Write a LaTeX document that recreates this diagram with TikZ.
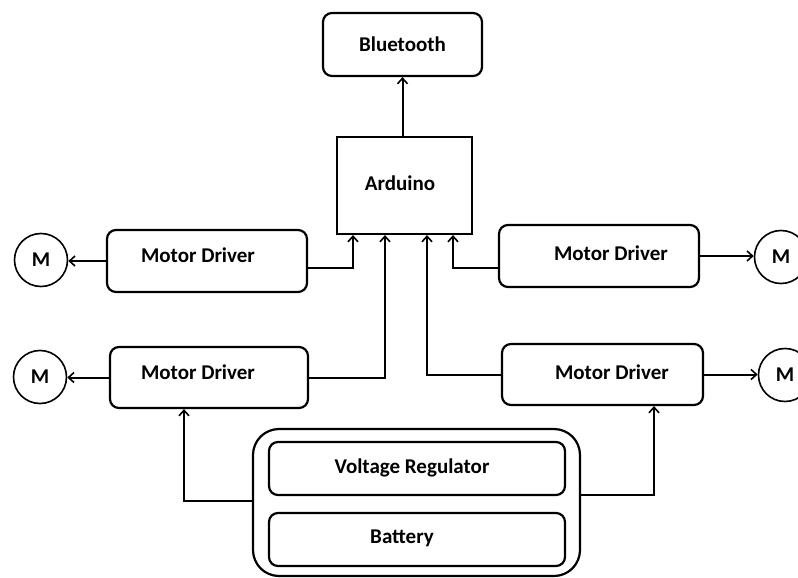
\documentclass[tikz,border=0pt]{standalone}
\usepackage{fontspec}
\setmainfont{Carlito}
\usetikzlibrary{arrows.meta}
\tikzset{
  box/.style={draw, line width=2.2pt, rounded corners=9pt, inner sep=0pt},
  sqbox/.style={draw, line width=2.2pt, inner sep=0pt},
  lbl/.style={font=\bfseries\fontsize{21}{25}\selectfont, inner sep=0pt},
  motor/.style={draw, circle, line width=1.6pt, minimum size=53pt, inner sep=0pt, font=\bfseries\fontsize{21}{25}\selectfont},
  conn/.style={line width=2pt, -{Straight Barb[length=5.5pt,width=10pt,line width=1.6pt]}},
  wire/.style={line width=2pt}
}
\begin{document}
\begin{tikzpicture}[x=1pt,y=-1pt]
\useasboundingbox (0,0) rectangle (798,578);
% boxes
\node[box, minimum width=159pt, minimum height=63pt, lbl] (bt) at (402.5,44.5) {Bluetooth};
\node[sqbox, minimum width=135pt, minimum height=97pt] (ard) at (404.5,185.5) {};
\node[lbl] (ardt) at (400,183) {Arduino};

\node[box, minimum width=200pt, minimum height=62pt] (md1) at (207,261) {};
\node[lbl] (md1t) at (198,255) {Motor Driver};
\node[box, minimum width=200pt, minimum height=62pt] (md2) at (599,256) {};
\node[lbl] (md2t) at (611,253) {Motor Driver};
\node[box, minimum width=198pt, minimum height=61pt] (md3) at (209,377.5) {};
\node[lbl] (md3t) at (198,372) {Motor Driver};
\node[box, minimum width=201pt, minimum height=61pt] (md4) at (602.5,374.5) {};
\node[lbl] (md4t) at (612,372) {Motor Driver};

\node[motor] (m1) at (41,260) {M};
\node[motor] (m2) at (781,257) {M};
\node[motor] (m3) at (40,377) {M};
\node[motor] (m4) at (785,375) {M};

\node[box, rounded corners=26pt, minimum width=327pt, minimum height=147pt] (pw) at (416.5,502.5) {};
\node[box, minimum width=296pt, minimum height=53pt] (vr) at (417,468.5) {};
\node[lbl] (vrt) at (412,468) {Voltage Regulator};
\node[box, minimum width=296pt, minimum height=53pt] (bat) at (417,539.5) {};
\node[lbl] (batt) at (402,538) {Battery};

% connectors
\draw[conn] (ard.north -| bt.south) -- (bt.south);
\draw[conn] (md1.west) -- (m1.east |- md1.west);
\draw[conn] (md3.west) -- (md3.west -| m3.east);
\draw[conn] (md2.east) -- (md2.east -| m2.west);
\draw[conn] (md4.east) -- (md4.east -| m4.west);
\draw[conn] ([yshift=-7pt]md1.east) -| ([xshift=-51.5pt]ard.south);
\draw[conn] (md3.east) -| ([xshift=-19.5pt]ard.south);
\draw[conn] (md4.west) -| ([xshift=22.5pt]ard.south);
\draw[conn] ([yshift=-12pt]md2.west) -| ([xshift=48.5pt]ard.south);
\draw[conn] ([yshift=2pt]pw.west) -| ([xshift=-25pt]md3.south);
\draw[conn] ([yshift=7.5pt]pw.east) -| ([xshift=51.5pt]md4.south);
\end{tikzpicture}
\end{document}
